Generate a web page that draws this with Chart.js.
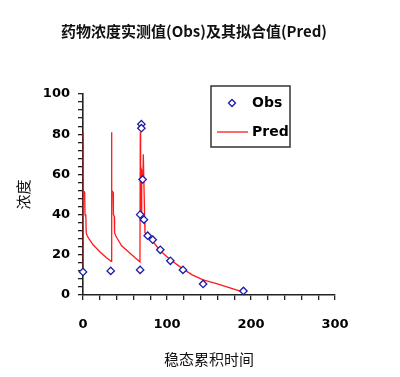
<!DOCTYPE html>
<html>
<head>
<meta charset="utf-8">
<script src="https://cdn.jsdelivr.net/npm/chart.js@4"></script>
<style>
html,body{margin:0;padding:0;background:#fff;}
#wrap{width:400px;height:377px;position:relative;}
</style>
</head>
<body>
<div id="wrap"><canvas id="c" width="400" height="377"></canvas></div>
<script>
const chartTitle = '药物浓度实测值(Obs)及其拟合值(Pred)';
const xTitle = '稳态累积时间';
const yTitle = '浓度';
const seriesNames = ['Obs', 'Pred'];

const obsTime = [0, 33, 68, 68, 69.5, 69.5, 71, 72.5, 77, 83, 92, 104, 119, 143, 191];
const obsConc = [11.5, 12, 12.5, 40, 85, 83, 57.5, 37.5, 29.5, 27.5, 22.5, 17, 12.5, 5.5, 2];

const predTime = [0, 0.3, 0.6, 2.0, 2.4, 3.4, 3.8, 5, 7, 12, 20, 28, 33.5,
                  34, 34.3, 35.8, 36.2, 37.2, 37.6, 39, 41, 46, 54, 62, 67.8,
                  68.2, 68.6, 69.6, 69.9, 71.4, 71.8, 73.4, 73.8, 76.5, 81.5, 92, 104, 119, 130, 143, 160, 175, 190];
const predConc = [11.3, 81, 52, 51, 40, 39, 31, 29.5, 28, 25, 21.5, 18.5, 16.8,
                  81, 52, 51, 40, 39, 31, 29.5, 28, 24.5, 21.5, 18.5, 16.5,
                  81, 40, 39, 62, 60, 70, 38, 31, 29.5, 27.5, 22, 17.5, 13, 10, 7.5, 5.5, 3.5, 1.5];

const xTicks = [0, 100, 200, 300];
const yTicks = [0, 20, 40, 60, 80, 100];

const obsData = obsTime.map((t, i) => ({x: t, y: obsConc[i]}));
const predData = predTime.map((t, i) => ({x: t, y: predConc[i]}));

const AXIS = '#222';
const tickFont = {family: 'DejaVu Sans', size: 13, weight: 'bold'};

const titlePlugin = {
  id: 'centerTitle',
  afterDraw(chart) {
    const ctx = chart.ctx;
    ctx.save();
    ctx.fillStyle = '#111';
    ctx.font = 'bold 15px "Noto Sans CJK SC"';
    ctx.textAlign = 'center';
    ctx.textBaseline = 'middle';
    ctx.fillText(chartTitle, 194, 31);
    ctx.restore();
  }
};

const legendPlugin = {
  id: 'boxLegend',
  afterDraw(chart) {
    const ctx = chart.ctx;
    const bx = 211, by = 86, bw = 79, bh = 61;
    ctx.save();
    ctx.strokeStyle = '#333';
    ctx.lineWidth = 1.5;
    ctx.strokeRect(bx, by, bw, bh);
    const ds0 = chart.data.datasets[0], ds1 = chart.data.datasets[1];
    ctx.strokeStyle = ds0.borderColor; ctx.fillStyle = '#fff'; ctx.lineWidth = 1.3;
    ctx.beginPath();
    ctx.moveTo(232, 99.5); ctx.lineTo(235.5, 103); ctx.lineTo(232, 106.5); ctx.lineTo(228.5, 103); ctx.closePath();
    ctx.fill(); ctx.stroke();
    ctx.strokeStyle = ds1.borderColor; ctx.lineWidth = 1.3;
    ctx.beginPath(); ctx.moveTo(217, 132); ctx.lineTo(248, 132); ctx.stroke();
    ctx.fillStyle = '#000';
    ctx.font = 'bold 14px "DejaVu Sans"';
    ctx.textBaseline = 'middle';
    ctx.textAlign = 'left';
    ctx.fillText(ds0.label, 252, 103);
    ctx.fillText(ds1.label, 252, 132);
    ctx.restore();
  }
};

new Chart(document.getElementById('c'), {
  type: 'scatter',
  data: {
    datasets: [
      {
        label: seriesNames[0],
        data: obsData,
        pointStyle: 'rectRot',
        pointRadius: 3.7,
        pointHoverRadius: 3.7,
        pointBorderWidth: 1.3,
        borderColor: '#1c1ca8',
        pointBackgroundColor: '#ffffff',
        backgroundColor: '#ffffff',
        showLine: false,
        clip: false
      },
      {
        label: seriesNames[1],
        data: predData,
        showLine: true,
        borderColor: '#ff1a1a',
        borderWidth: 1.3,
        pointRadius: 0,
        tension: 0,
        clip: false
      }
    ]
  },
  options: {
    responsive: false,
    animation: false,
    events: [],
    layout: {padding: {left: 0, right: 65, top: 94, bottom: 0}},
    plugins: {
      legend: {display: false},
      tooltip: {enabled: false},
      title: {display: false}
    },
    scales: {
      x: {
        type: 'linear',
        min: 0, max: 300,
        afterFit(s) { s.height = 82; },
        ticks: {
          stepSize: 20,
          autoSkip: false,
          maxRotation: 0,
          color: '#000',
          font: tickFont,
          padding: 17,
          callback: v => xTicks.includes(v) ? String(v) : ''
        },
        grid: {drawOnChartArea: false, drawTicks: true, tickLength: 5, color: AXIS, lineWidth: 1.3},
        border: {display: true, color: AXIS, width: 1.6},
        title: {
          display: true, text: xTitle, color: '#111',
          font: {family: '"Noto Sans CJK SC"', size: 15, lineHeight: 1.2},
          padding: {top: 0, bottom: 9}
        }
      },
      y: {
        type: 'linear',
        min: 0, max: 100,
        afterFit(s) { s.width = 83; },
        ticks: {
          stepSize: 4,
          autoSkip: false,
          color: '#000',
          font: tickFont,
          padding: 8,
          callback: v => yTicks.includes(v) ? String(v) : ''
        },
        grid: {drawOnChartArea: false, drawTicks: true, tickLength: 5, color: AXIS, lineWidth: 1.3},
        border: {display: true, color: AXIS, width: 1.6},
        title: {
          display: true, text: yTitle, color: '#111',
          font: {family: '"Noto Sans CJK SC"', size: 15, lineHeight: 1.2},
          padding: {top: 14, bottom: 0}
        }
      }
    }
  },
  plugins: [titlePlugin, legendPlugin]
});
</script>
</body>
</html>
